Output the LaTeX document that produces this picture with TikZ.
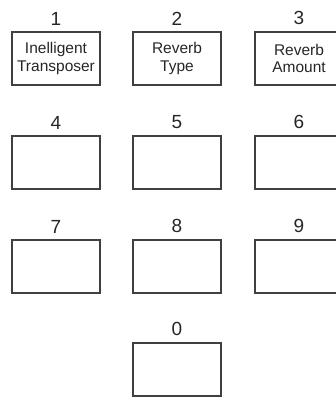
\documentclass[tikz,border=0pt]{standalone}
\usepackage{fontspec}
\setmainfont{Liberation Sans}
\usetikzlibrary{positioning}

\begin{document}
\begin{tikzpicture}[x=1pt, y=-1pt,
		key/.style={draw=black!75, line width=1.4pt, minimum width=88pt, minimum height=53pt, inner sep=0pt, align=center, text=black!85, font=\fontsize{15.5}{17.5}\selectfont},
		num/.style={inner sep=0pt, text=black!85, font=\fontsize{19}{19}\selectfont}]
		\clip (0,0) rectangle (336,400);
		% Reihe 1
		\node[key] (k1) at (56,58.5) {Inelligent\\Transposer};
		\node[num, above=6pt of k1] (n1) {1};
		\node[key] (k2) at (177,58.5) {Reverb\\Type};
		\node[num, above=6pt of k2] (n2) {2};
		\node[key] (k3) at (299,58.5) {Reverb\\Amount};
		\node[num, above=6pt of k3] (n3) {3};
		
		% Reihe 2
		\node[key] (k4) at (56,162.5) {};
		\node[num, above=6pt of k4] (n4) {4};
		\node[key] (k5) at (177,162.5) {};
		\node[num, above=6pt of k5] (n5) {5};
		\node[key] (k6) at (299,162.5) {};
		\node[num, above=6pt of k6] (n6) {6};
		
		% Reihe 3
		\node[key] (k7) at (56,266.5) {};
		\node[num, above=6pt of k7] (n7) {7};
		\node[key] (k8) at (177,266.5) {};
		\node[num, above=6pt of k8] (n8) {8};
		\node[key] (k9) at (299,266.5) {};
		\node[num, above=6pt of k9] (n9) {9};
		
		% Null
		\node[key] (k0) at (177,369.5) {};
		\node[num, above=6pt of k0] (n0) {0};
	\end{tikzpicture}
\end{document}
